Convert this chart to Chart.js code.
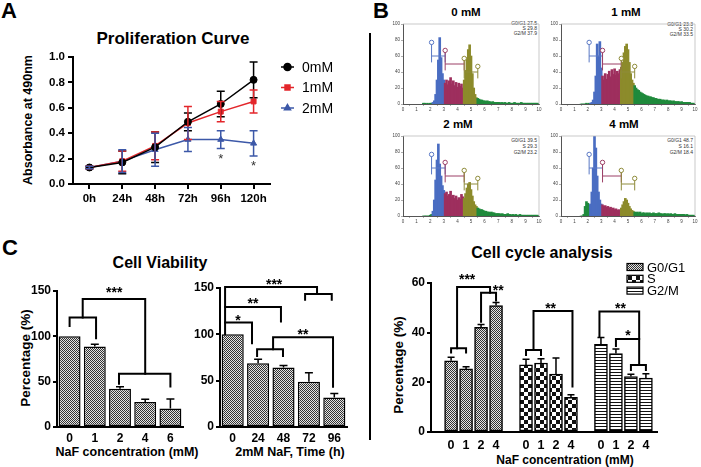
<!DOCTYPE html>
<html>
<head>
<meta charset="utf-8">
<script src="https://cdn.jsdelivr.net/npm/chart.js@4.4.1/dist/chart.umd.min.js"></script>
<style>
body{margin:0;background:#fff;width:701px;height:467px;position:relative;overflow:hidden;font-family:"Liberation Sans",Arial,sans-serif;}
canvas{position:absolute;left:0;top:0;pointer-events:none}
.t{position:absolute;transform:translate(-50%,-50%);white-space:nowrap;font-weight:bold;color:#000}
.r{transform:translate(-50%,-50%) rotate(-90deg)}
.s{position:absolute;font-size:5px;line-height:5.2px;text-align:right;color:#333;white-space:nowrap}
#divider{position:absolute;left:369px;top:33px;width:2px;height:407px;background:#000}
</style>
</head>
<body>
<div class="t" style="left:9px;top:11px;font-size:22px">A</div>
<div class="t" style="left:381px;top:11px;font-size:22px">B</div>
<div class="t" style="left:10px;top:248px;font-size:22px">C</div>

<div class="t" style="left:173px;top:39px;font-size:17px">Proliferation Curve</div>
<div class="t r" style="left:28px;top:120px;font-size:12.5px">Absorbance at 490nm</div>

<div class="t" style="left:466px;top:12px;font-size:11.5px">0 mM</div>
<div class="t" style="left:626px;top:12px;font-size:11.5px">1 mM</div>
<div class="t" style="left:458px;top:124px;font-size:11.5px">2 mM</div>
<div class="t" style="left:624px;top:124px;font-size:11.5px">4 mM</div>
<div class="s" style="right:164px;top:21px">G0/G1 27.5<br>S 29.8<br>G2/M 37.9</div>
<div class="s" style="right:8px;top:22px">G0/G1 23.3<br>S 30.2<br>G2/M 33.5</div>
<div class="s" style="right:164px;top:137px;line-height:6px">G0/G1 39.5<br>S 29.3<br>G2/M 23.2</div>
<div class="s" style="right:8px;top:137px;line-height:6px">G0/G1 48.7<br>S 16.1<br>G2/M 18.4</div>

<div class="t" style="left:542px;top:253px;font-size:16px">Cell cycle analysis</div>
<div class="t r" style="left:398px;top:365px;font-size:13.5px">Percentage (%)</div>
<div class="t" style="left:565px;top:460px;font-size:12px">NaF concentration (mM)</div>

<div class="t" style="left:160px;top:263px;font-size:16px">Cell Viability</div>
<div class="t r" style="left:25px;top:358px;font-size:13.5px">Percentage (%)</div>
<div class="t" style="left:127px;top:452px;font-size:12.5px">NaF concentration (mM)</div>
<div class="t" style="left:290px;top:452px;font-size:12.5px">2mM NaF, Time (h)</div>

<div id="divider"></div>

<canvas id="cA" width="701" height="467"></canvas>
<canvas id="cH0" width="701" height="467"></canvas>
<canvas id="cH1" width="701" height="467"></canvas>
<canvas id="cH2" width="701" height="467"></canvas>
<canvas id="cH4" width="701" height="467"></canvas>
<canvas id="cCC" width="701" height="467"></canvas>
<canvas id="cC1" width="701" height="467"></canvas>
<canvas id="cC2" width="701" height="467"></canvas>

<script>
// ---- A: proliferation curve ----
var hours = ['0h', '24h', '48h', '72h', '96h', '120h'];
var abs0 = [0.13, 0.17, 0.29, 0.49, 0.63, 0.82];
var abs0Sd = [0.01, 0.09, 0.12, 0.07, 0.10, 0.14];
var abs1 = [0.13, 0.18, 0.30, 0.48, 0.57, 0.65];
var abs1Sd = [0.01, 0.08, 0.11, 0.13, 0.08, 0.09];
var abs2 = [0.13, 0.18, 0.27, 0.35, 0.35, 0.32];
var abs2Sd = [0.01, 0.09, 0.13, 0.095, 0.07, 0.10];
var profStars = [[4, 0.228, '*'], [5, 0.173, '*']];

// ---- B: DNA histograms, bins of 0.1 from 1.5 to 9.9 ----
var binStart = 1.5, binStep = 0.1;
var hist0 = [1,1,0,1,0,1,1,2, 4,12,30,55,83,58,38,30,
  26,30,24,29,33,25,29,23,27,21,26,22,25,20,
  30,42,58,68,74,60,38,20,12,8,
  7,6,5,5,4,4,3,4,3,3,2,3,2,2,2,2,
  2,1,2,1,2,1,1,2,1,1,1,2,1,1,1,1,2,1,1,1,1,1,1,1,1,1,1,1,1];
var hist1 = [0,0,0,0,1,0,1,1, 2,5,15,35,75,60,78,45,
  35,30,38,31,37,41,34,43,37,44,36,41,38,43,
  46,52,64,72,75,68,52,38,30,26,
  23,20,18,17,15,14,13,12,11,10,10,9,9,8,8,7,
  7,6,6,6,5,5,5,4,5,4,4,4,3,4,3,3,3,3,2,3,2,2,2,2,2,2,1,1,1];
var hist2 = [0,0,0,0,0,1,2,6, 20,45,70,90,65,50,38,32,
  28,30,25,27,31,24,26,22,25,20,23,21,27,24,
  22,28,35,40,42,33,25,18,14,12,
  10,9,8,8,7,6,6,5,5,4,5,4,4,3,3,3,
  3,2,3,2,2,2,3,2,2,1,2,1,2,1,1,2,1,1,1,1,1,1,1,1,1,1,1,1,1];
var hist4 = [0,0,2,12,18,16,14,15, 30,60,100,85,50,30,20,15,
  14,12,13,11,12,10,11,9,10,8,9,7,8,7,
  10,14,18,22,20,16,12,9,7,6,
  5,4,5,4,5,3,4,4,3,4,3,4,3,3,4,3,
  3,3,4,3,3,2,3,3,2,3,2,3,2,2,3,2,2,2,2,2,2,2,1,2,1,1,1,1,1];
var gateX = [2.1, 3.1, 4.5, 5.5];
var gateY = [60, 50, 40];

// ---- B: cell cycle bars ----
var concCC = ['0', '1', '2', '4'];
var g0g1 = [28.7, 25.4, 42.1, 50.9];
var g0g1Err = [1.4, 0.9, 1.2, 1.2];
var sPhase = [27.0, 27.8, 23.3, 14.0];
var sPhaseErr = [2.3, 1.7, 6.5, 1.0];
var g2m = [35.3, 31.6, 22.3, 21.7];
var g2mErr = [2.8, 1.8, 1.0, 1.8];
var ccLines = [
  [[0, 32], [0, 33.7], [1, 33.7], [1, 32]],
  [[0.4, 33.7], [0.4, 58.4], [2.6, 58.4], [2.6, 56.1]],
  [[2, 44.4], [2, 56.1], [3, 56.1], [3, 53]],
  [[5, 31], [5, 33], [6, 33], [6, 31]],
  [[5.5, 33], [5.5, 48.7], [8.1, 48.7], [8.1, 18.3]],
  [[9.9, 38.4], [9.9, 48.5], [12.55, 48.5], [12.55, 37.4]],
  [[11, 34.6], [11, 37.4], [12.55, 37.4], [12.55, 27]],
  [[12, 25], [12, 27], [13, 27], [13, 25]]
];
var ccStars = [[1.07, 62.7, '***'], [3.15, 58.4, '**'], [6.64, 51.3, '**'], [11.3, 51.3, '**'], [11.8, 40.4, '*']];

// ---- C: cell viability ----
var concC = ['0', '1', '2', '4', '6'];
var viabConc = [100, 88.8, 42.2, 27.5, 20.5];
var viabConcErr = [0, 2.5, 2.2, 3.0, 10.5];
var timeC = ['0', '24', '48', '72', '96'];
var viabTime = [100, 68.7, 64.3, 48.8, 31.8];
var viabTimeErr = [0, 4.3, 2.2, 9.7, 4.3];
var concLines = [
  [[0, 111.5], [0, 120.7], [1.05, 120.7], [1.05, 98]],
  [[0.52, 120.7], [0.52, 141.2], [3.0, 141.2], [3.0, 58.7]],
  [[1.96, 47.7], [1.96, 58.7], [4.0, 58.7], [4.0, 44.7]]
];
var concStars = [[1.77, 152, '***']];
var timeLines = [
  [[-0.3, 100], [-0.3, 151.1], [3.32, 151.1], [3.32, 143.6]],
  [[2.85, 137.3], [2.85, 143.6], [3.9, 143.6], [3.9, 137.3]],
  [[-0.3, 129.4], [1.9, 129.4], [1.9, 113.9]],
  [[-0.3, 112.8], [0.76, 112.8], [0.76, 90.4]],
  [[0.96, 76.6], [0.96, 83.9], [1.98, 83.9], [1.98, 76.6]],
  [[1.59, 83.9], [1.59, 96.9], [3.95, 96.9], [3.95, 43.4]]
];
var timeStars = [[1.63, 158, '***'], [0.8, 137, '**'], [0.21, 119, '*'], [2.77, 103.7, '**']];

Chart.defaults.font.family = '"Liberation Sans", Arial, sans-serif';
Chart.defaults.color = '#000';
Chart.defaults.animation = false;
Chart.defaults.plugins.legend.display = false;
Chart.defaults.plugins.tooltip.enabled = false;

// every canvas covers the page; padding puts the plot box where it belongs
function frame(p, yW, xH) {
  return { padding: { left: p.l - yW, top: p.t, right: 701 - p.r, bottom: 467 - p.b - xH } };
}
function fixW(w) { return function (s) { s.width = w; }; }
function fixH(h) { return function (s) { s.height = h; }; }

function pattern(w, h, light, dark, draw) {
  var c = document.createElement('canvas');
  c.width = w; c.height = h;
  var x = c.getContext('2d');
  x.fillStyle = light; x.fillRect(0, 0, w, h);
  x.fillStyle = dark;
  draw(x);
  return x.createPattern(c, 'repeat');
}
var patDense = pattern(2, 2, '#e4e4e4', '#333', function (x) { x.fillRect(0, 0, 1, 1); x.fillRect(1, 1, 1, 1); });
var patCheck = pattern(8, 8, '#fff', '#111', function (x) { x.fillRect(0, 0, 4, 4); x.fillRect(4, 4, 4, 4); });
var patStripe = pattern(3, 3, '#fff', '#111', function (x) { x.fillRect(0, 0, 3, 1); });

// error bars, symmetric for lines, upward for bars
var errPlugin = {
  id: 'errs',
  afterDatasetsDraw: function (chart, args, opts) {
    var ctx = chart.ctx, y = chart.scales.y;
    ctx.save();
    chart.data.datasets.forEach(function (ds, di) {
      if (!ds.errors) return;
      ctx.strokeStyle = ds.errColor || '#000';
      ctx.lineWidth = opts.width || 1.5;
      chart.getDatasetMeta(di).data.forEach(function (el, i) {
        var v = y.getValueForPixel(el.y), e = ds.errors[i];
        if (!e) return;
        var top = y.getPixelForValue(v + e);
        var bot = opts.both ? y.getPixelForValue(v - e) : el.y;
        var w = opts.cap || 4;
        ctx.beginPath();
        ctx.moveTo(el.x, bot); ctx.lineTo(el.x, top);
        ctx.moveTo(el.x - w, top); ctx.lineTo(el.x + w, top);
        if (opts.both) { ctx.moveTo(el.x - w, bot); ctx.lineTo(el.x + w, bot); }
        ctx.stroke();
      });
    });
    ctx.restore();
  }
};

// significance brackets and asterisks
var sigPlugin = {
  id: 'sig',
  afterDatasetsDraw: function (chart, args, opts) {
    var ctx = chart.ctx, x = chart.scales.x, y = chart.scales.y;
    ctx.save();
    ctx.strokeStyle = '#000'; ctx.lineWidth = opts.lw || 2; ctx.lineJoin = 'miter'; ctx.lineCap = 'square';
    (opts.lines || []).forEach(function (pts) {
      ctx.beginPath();
      pts.forEach(function (p, k) {
        var X = x.getPixelForValue(p[0]), Y = y.getPixelForValue(p[1]);
        if (k) ctx.lineTo(X, Y); else ctx.moveTo(X, Y);
      });
      ctx.stroke();
    });
    ctx.fillStyle = opts.color || '#000';
    ctx.font = opts.font || 'bold 14px "Liberation Sans", Arial, sans-serif';
    ctx.textAlign = 'center'; ctx.textBaseline = 'alphabetic';
    (opts.texts || []).forEach(function (t) {
      ctx.fillText(t[2], x.getPixelForValue(t[0]), y.getPixelForValue(t[1]) + (opts.dy || 8));
    });
    ctx.restore();
  }
};

var blackAxis = { color: '#000', width: 2 };
var outTicks = function (len) { return { drawOnChartArea: false, tickLength: len, color: '#000', lineWidth: 2 }; };

// ---------- A ----------
var legendA = {
  id: 'legendA',
  afterDraw: function (chart) {
    var ctx = chart.ctx;
    ctx.save();
    ctx.font = '14px "Liberation Sans", Arial, sans-serif';
    ctx.textBaseline = 'middle';
    chart.data.datasets.forEach(function (ds, i) {
      var yy = 67 + i * 20.5;
      ctx.strokeStyle = ds.borderColor; ctx.lineWidth = 1.5;
      ctx.beginPath(); ctx.moveTo(281, yy); ctx.lineTo(294, yy); ctx.stroke();
      Chart.helpers.drawPoint(ctx, { pointStyle: ds.pointStyle, radius: 3.5, borderWidth: 1 }, 287.5, yy);
      ctx.fillStyle = ds.borderColor;
      ctx.fill();
      ctx.fillStyle = '#000';
      ctx.fillText(ds.label, 302, yy + 1);
    });
    ctx.restore();
  }
};
function lineSet(label, data, err, color, shape) {
  return { label: label, data: data, errors: err, errColor: color, borderColor: color, backgroundColor: color,
    borderWidth: 1.5, pointStyle: shape, pointRadius: 3.5, pointBorderWidth: 1 };
}
var plotA = { l: 73, r: 270, t: 57, b: 184 };
new Chart(document.getElementById('cA'), {
  type: 'line',
  data: {
    labels: hours,
    datasets: [
      lineSet('0mM', abs0, abs0Sd, '#000000', 'circle'),
      lineSet('1mM', abs1, abs1Sd, '#e3262b', 'rect'),
      lineSet('2mM', abs2, abs2Sd, '#3c58a8', 'triangle')
    ]
  },
  options: {
    responsive: false,
    layout: frame(plotA, 45, 25),
    scales: {
      x: { offset: true, afterFit: fixH(25), grid: outTicks(5), border: blackAxis,
           ticks: { padding: 3, font: { size: 11.5, weight: 'bold' } } },
      y: { min: 0, max: 1, afterFit: fixW(45), grid: outTicks(5), border: blackAxis,
           ticks: { stepSize: 0.2, padding: 3, font: { size: 11.5, weight: 'bold' },
                    callback: function (v) { return v.toFixed(1); } } }
    },
    plugins: {
      errs: { both: true, cap: 4, width: 1.5 },
      sig: { lines: [], texts: profStars, font: '13px "Liberation Sans", Arial, sans-serif', color: '#333', dy: 8 }
    }
  },
  plugins: [errPlugin, sigPlugin, legendA]
});

// ---------- B: histograms ----------
function phaseColor(v) {
  if (v > 2.15 && v < 3.05) return '#4a6dc2';
  if (v >= 3.05 && v < 4.45) return '#9e2f5e';
  if (v >= 4.45 && v < 5.45) return '#8c8b2b';
  return '#1f8a3c';
}
var gateColors = ['#5a78c4', '#9c3f66', '#8e8b3a'];
var gatePlugin = {
  id: 'gates',
  afterDatasetsDraw: function (chart) {
    var ctx = chart.ctx, x = chart.scales.x, y = chart.scales.y, a = chart.chartArea;
    ctx.save();
    ctx.strokeStyle = '#bbbbbb'; ctx.lineWidth = 0.8;
    ctx.beginPath(); ctx.moveTo(a.left, a.top); ctx.lineTo(a.right, a.top); ctx.lineTo(a.right, a.bottom); ctx.stroke();
    function ring(px, py, c) {
      ctx.beginPath(); ctx.arc(px, py, 2.2, 0, Math.PI * 2);
      ctx.fillStyle = '#fff'; ctx.fill(); ctx.strokeStyle = c; ctx.stroke();
    }
    ctx.lineWidth = 1;
    gateY.forEach(function (gy, g) {
      var x0 = x.getPixelForValue(gateX[g]), x1 = x.getPixelForValue(gateX[g + 1]);
      var last = g === gateY.length - 1;
      ctx.strokeStyle = gateColors[g];
      ctx.beginPath();
      ctx.moveTo(x0, y.getPixelForValue(gy - 8)); ctx.lineTo(x0, y.getPixelForValue(gy + 17));
      ctx.moveTo(x0, y.getPixelForValue(gy)); ctx.lineTo(x1, y.getPixelForValue(gy));
      ctx.moveTo(x1, y.getPixelForValue(gy - 8)); ctx.lineTo(x1, y.getPixelForValue(gy + (last ? 7 : 8)));
      ctx.stroke();
      ring(x0, y.getPixelForValue(gy + 17), gateColors[g]);
      if (last) ring(x1, y.getPixelForValue(gy + 7), gateColors[g]);
    });
    ctx.restore();
  }
};
var tinyGrid = { drawOnChartArea: false, tickLength: 2, color: '#777', lineWidth: 0.6 };
var tinyAxis = { color: '#555', width: 1 };
function histChart(id, vals, plot) {
  var bins = vals.map(function (v, i) { return +(binStart + i * binStep).toFixed(2); });
  new Chart(document.getElementById(id), {
    type: 'bar',
    data: {
      labels: bins,
      datasets: [{ data: vals, borderWidth: 0, barThickness: 2,
        backgroundColor: function (c) { return phaseColor(bins[c.dataIndex]); } }]
    },
    options: {
      responsive: false,
      layout: frame(plot, 12, 9),
      scales: {
        x: { type: 'linear', min: 0, max: 10, offset: false, afterFit: fixH(9), grid: tinyGrid, border: tinyAxis,
             ticks: { stepSize: 1, autoSkip: false, maxRotation: 0, padding: 1, color: '#444', font: { size: 4.5 } } },
        y: { min: 0, max: 100, afterFit: fixW(12), grid: tinyGrid, border: tinyAxis,
             ticks: { stepSize: 10, padding: 1, color: '#444', font: { size: 4.5 } } }
      }
    },
    plugins: [gatePlugin]
  });
}
histChart('cH0', hist0, { l: 403, r: 539, t: 24, b: 104 });
histChart('cH1', hist1, { l: 561, r: 695, t: 24, b: 104 });
histChart('cH2', hist2, { l: 403, r: 539, t: 136, b: 216 });
histChart('cH4', hist4, { l: 561, r: 695, t: 136, b: 216 });

// ---------- B: cell cycle ----------
var groupStep = 5;
var ccTickPos = [];
[0, 1, 2].forEach(function (g) { concCC.forEach(function (c, i) { ccTickPos.push(g * groupStep + i); }); });
function ccSet(label, vals, errs, g, pat) {
  return { label: label, errors: errs, backgroundColor: pat, borderColor: '#000', borderWidth: 1.5,
    borderSkipped: false, grouped: false, barThickness: 13,
    data: vals.map(function (v, i) { return { x: g * groupStep + i, y: v }; }) };
}
var legendCC = {
  id: 'legendCC',
  afterDraw: function (chart) {
    var ctx = chart.ctx;
    ctx.save();
    ctx.font = '13px "Liberation Sans", Arial, sans-serif';
    ctx.textBaseline = 'middle';
    chart.data.datasets.forEach(function (ds, i) {
      var yy = 267 + i * 11.8;
      ctx.fillStyle = ds.backgroundColor;
      ctx.fillRect(627, yy - 3.5, 16, 7);
      ctx.strokeStyle = '#000'; ctx.lineWidth = 1.2;
      ctx.strokeRect(627, yy - 3.5, 16, 7);
      ctx.fillStyle = '#000';
      ctx.fillText(ds.label, 647, yy + 1);
    });
    ctx.restore();
  }
};
var plotCC = { l: 431, r: 657, t: 283, b: 432 };
new Chart(document.getElementById('cCC'), {
  type: 'bar',
  data: {
    datasets: [
      ccSet('G0/G1', g0g1, g0g1Err, 0, patDense),
      ccSet('S', sPhase, sPhaseErr, 1, patCheck),
      ccSet('G2/M', g2m, g2mErr, 2, patStripe)
    ]
  },
  options: {
    responsive: false,
    layout: frame(plotCC, 34, 18),
    scales: {
      x: { type: 'linear', min: -1.34, max: 13.74, offset: false, afterFit: fixH(18),
           afterBuildTicks: function (s) { s.ticks = ccTickPos.map(function (v) { return { value: v }; }); },
           grid: { display: false, drawTicks: false }, border: blackAxis,
           ticks: { autoSkip: false, maxRotation: 0, padding: 6, font: { size: 12.5, weight: 'bold' },
                    callback: function (v, i) { return concCC[i % concCC.length]; } } },
      y: { min: 0, max: 60, afterFit: fixW(34), grid: outTicks(4), border: blackAxis,
           ticks: { stepSize: 20, padding: 2, font: { size: 12, weight: 'bold' } } }
    },
    plugins: {
      errs: { cap: 3.5, width: 1.5 },
      sig: { lines: ccLines, texts: ccStars, dy: 8 }
    }
  },
  plugins: [errPlugin, sigPlugin, legendCC]
});

// ---------- C ----------
function viabChart(id, labels, vals, errs, plot, lines, stars) {
  new Chart(document.getElementById(id), {
    type: 'bar',
    data: {
      labels: labels,
      datasets: [{ data: vals, errors: errs, backgroundColor: patDense, borderColor: '#000', borderWidth: 1.5,
        borderSkipped: false, barPercentage: 0.87, categoryPercentage: 1 }]
    },
    options: {
      responsive: false,
      layout: frame(plot, 34, 17),
      scales: {
        x: { afterFit: fixH(17), grid: { display: false, drawTicks: false }, border: blackAxis,
             ticks: { padding: 4, font: { size: 12, weight: 'bold' } } },
        y: { min: 0, max: 150, afterFit: fixW(34), grid: outTicks(4), border: blackAxis,
             ticks: { stepSize: 50, padding: 2, font: { size: 12, weight: 'bold' } } }
      },
      plugins: {
        errs: { cap: 4, width: 1.5 },
        sig: { lines: lines, texts: stars, dy: 8 }
      }
    },
    plugins: [errPlugin, sigPlugin]
  });
}
viabChart('cC1', concC, viabConc, viabConcErr, { l: 57, r: 183, t: 291, b: 427 }, concLines, concStars);
viabChart('cC2', timeC, viabTime, viabTimeErr, { l: 220, r: 347, t: 288, b: 427 }, timeLines, timeStars);
</script>
</body>
</html>
